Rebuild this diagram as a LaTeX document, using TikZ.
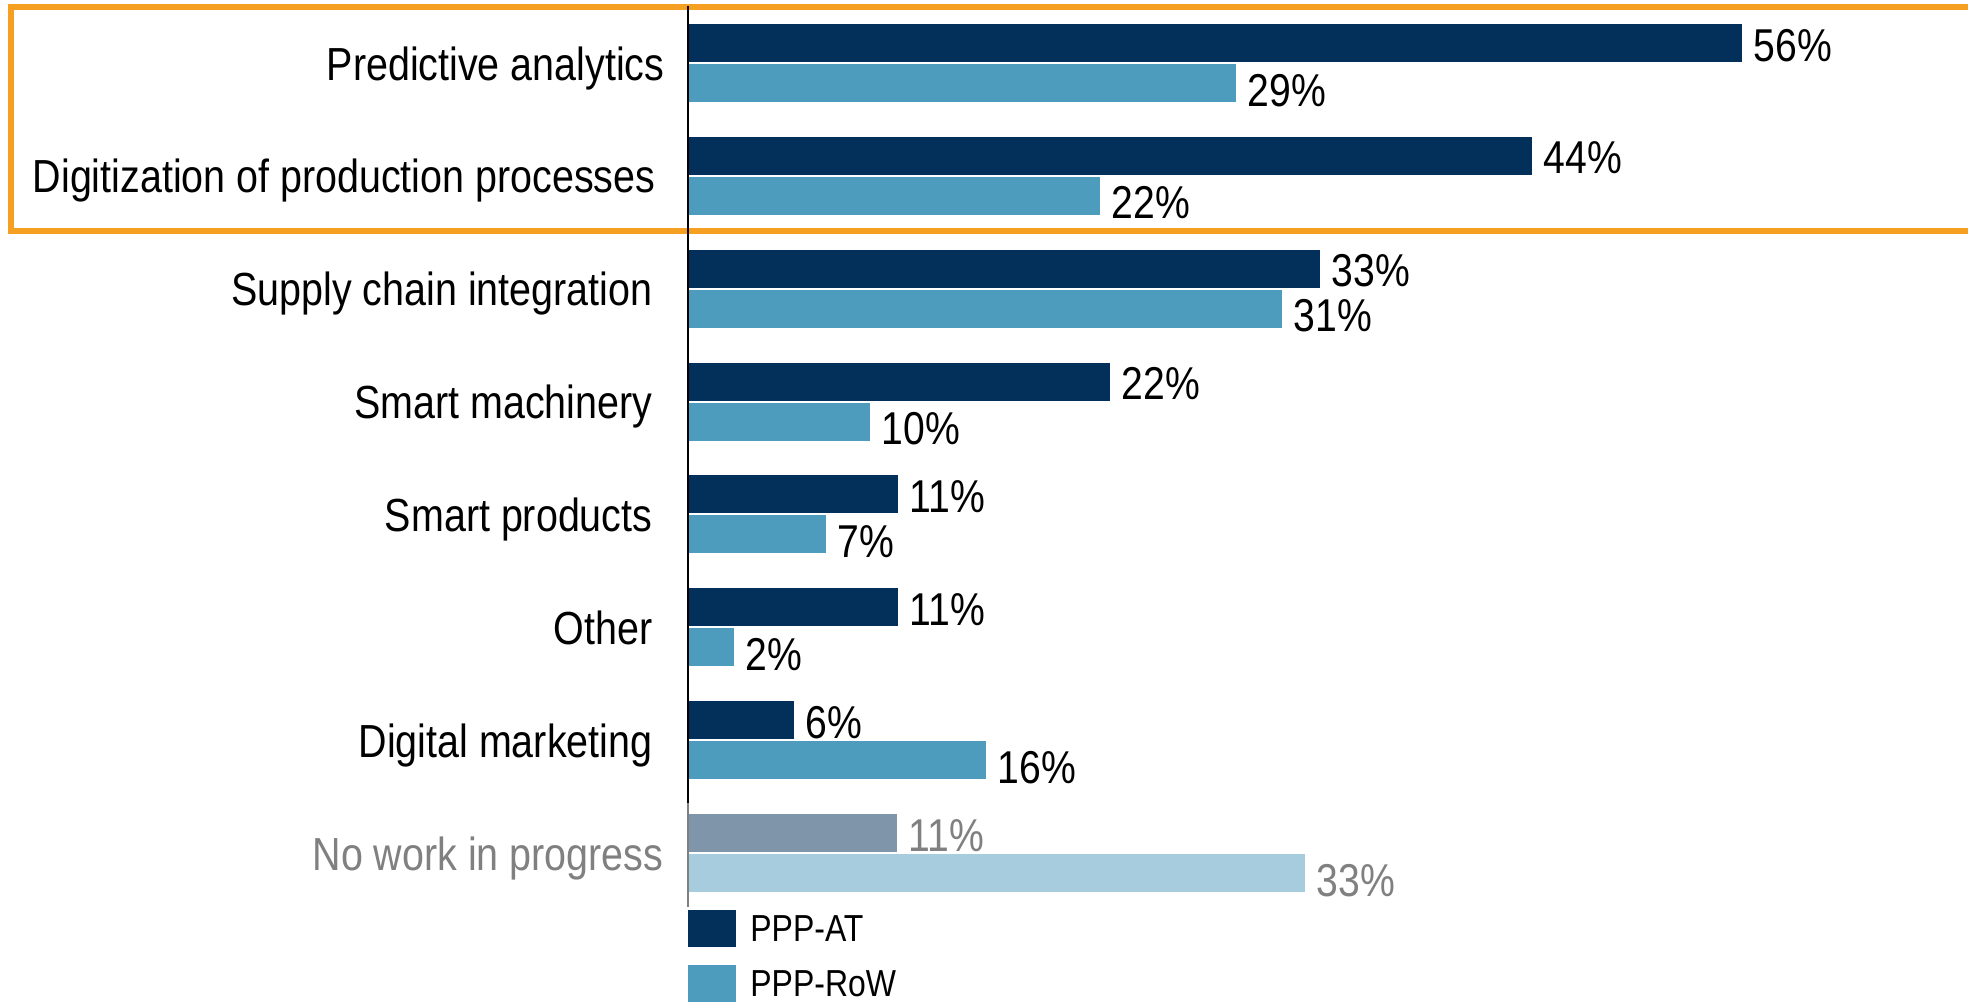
\documentclass[tikz,border=0pt]{standalone}
\usepackage{fontspec}
\setmainfont{Liberation Sans}[FakeStretch=0.85]
\usepackage{xcolor}
\usepackage{tikz}
\usetikzlibrary{positioning}

\definecolor{atblue}{HTML}{02305A}
\definecolor{rowblue}{HTML}{4D9BBD}
\definecolor{atgray}{HTML}{7F95A9}
\definecolor{rowgray}{HTML}{A7CCDD}
\definecolor{frameorange}{HTML}{F5A023}
\definecolor{labgray}{HTML}{808080}

\tikzset{
  catlabel/.style={anchor=base east, inner sep=0pt, font=\fontsize{13.2}{15}\selectfont},
  vallabel/.style={anchor=base west, inner sep=0pt, font=\fontsize{13.1}{15}\selectfont},
  keybox/.style={draw=none, minimum width=4.8mm, minimum height=3.7mm, inner sep=0pt},
  leglabel/.style={inner sep=0pt, font=\fontsize{10.7}{12}\selectfont},
}

\begin{document}
\begin{tikzpicture}[x=0.1mm,y=-0.1mm]
      \useasboundingbox (0,0) rectangle (1968,1003);
      \draw[frameorange, line width=0.6mm] (11,7) rectangle (1990,231);
      \foreach \i/\id/\cat/\cx/\at/\atv/\row/\rowv in {
        0/pa/Predictive analytics/665/1054/56/548/29,
        1/dpp/Digitization of production processes/656/844/44/412/22,
        2/sci/Supply chain integration/653/632/33/594/31,
        3/sm/Smart machinery/653/422/22/182/10,
        4/sp/Smart products/653/210/11/138/7,
        5/oth/Other/653/210/11/46/2,
        6/dm/Digital marketing/653/106/6/298/16}
      {
        \pgfmathsetmacro{\t}{24+112.86*\i}
        \fill[atblue] (688,\t) rectangle ++(\at,38);
        \fill[rowblue] (688,\t+40) rectangle ++(\row,38);
        \node[catlabel] (cat-\id) at (\cx,\t+56) {\cat};
        \node[vallabel] (at-\id) at (688+\at+11,\t+37) {\atv\%};
        \node[vallabel] (row-\id) at (688+\row+11,\t+82) {\rowv\%};
      }
      % greyed out group
      \fill[atgray] (688,814) rectangle ++(209,38);
      \fill[rowgray] (688,854) rectangle ++(617,38);
      \node[catlabel, text=labgray] (cat-nwp) at (664,870) {No work in progress};
      \node[vallabel, text=labgray] (at-nwp) at (908,851) {11\%};
      \node[vallabel, text=labgray] (row-nwp) at (1316,896) {33\%};
      \draw[line width=0.2mm] (688,6) -- (688,803);
      \draw[labgray, line width=0.2mm] (688,803) -- (688,907);
      % legend
      \node[keybox, fill=atblue] (key-at) at (712,928.5) {};
      \node[keybox, fill=rowblue] (key-row) at (712,983.5) {};
      \node[leglabel, right=1.3mm of key-at] (lab-at) {PPP-AT};
      \node[leglabel, right=1.3mm of key-row] (lab-row) {PPP-RoW};
    \end{tikzpicture}
\end{document}
